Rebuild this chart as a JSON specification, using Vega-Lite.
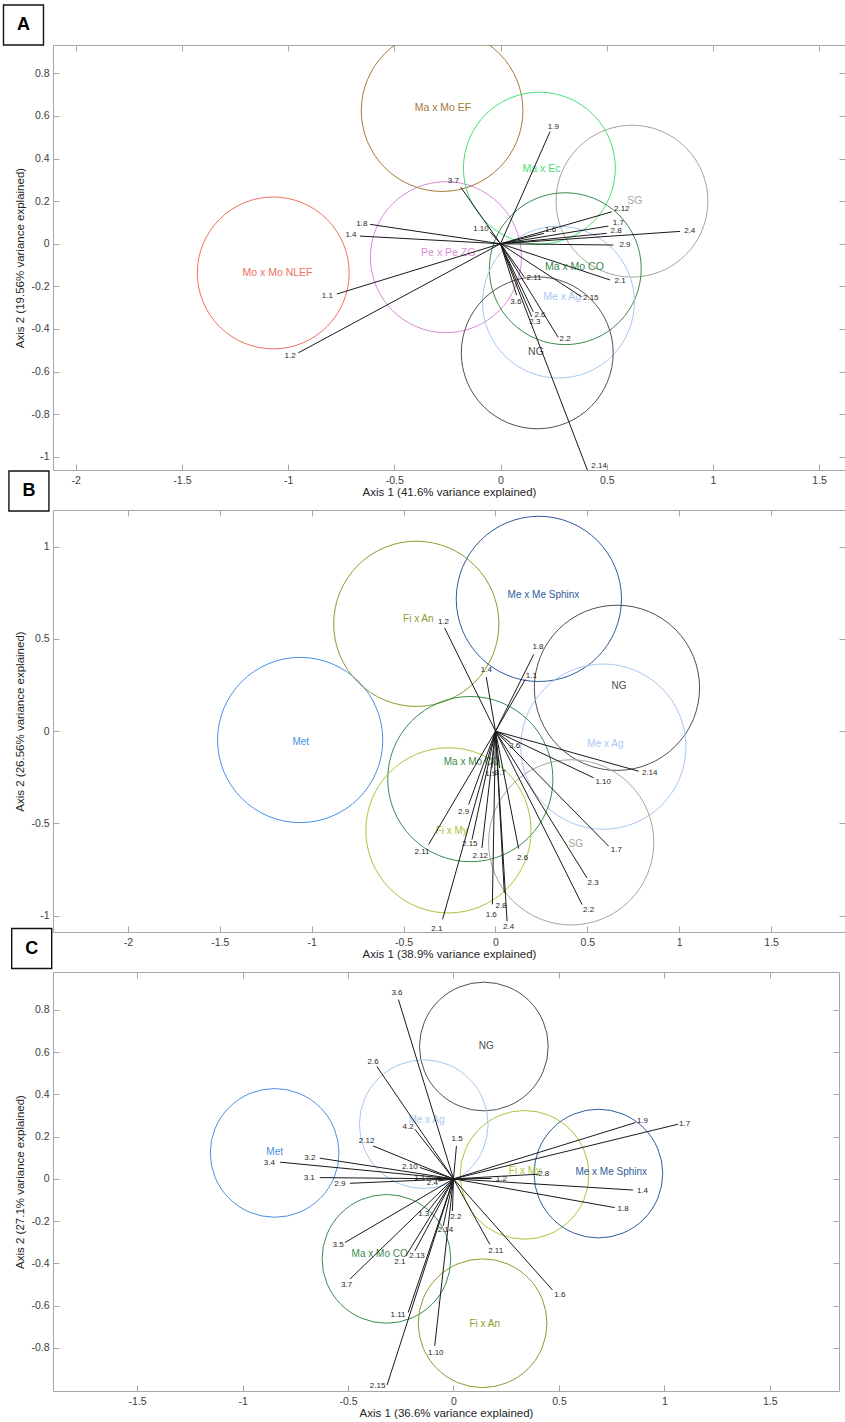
{
  "$schema": "https://vega.github.io/schema/vega-lite/v6.json",
  "padding": {"left": 0, "top": 1, "right": 0, "bottom": 0},
  "background": "white",
  "config": {
    "font": "Liberation Sans",
    "view": {"stroke": "#a6a6a6", "strokeWidth": 1},
    "axis": {"domain": false, "grid": false, "tickColor": "#a6a6a6", "tickSize": -6, "tickWidth": 1, "labelFontSize": 10.5, "labelColor": "#404040", "labelFont": "Liberation Sans", "titleFont": "Liberation Sans", "titleFontSize": 11.5, "titleFontWeight": "normal", "titleColor": "#262626", "labelFlush": false, "labelOverlap": false, "labelBound": false},
    "axisBottom": {"labelPadding": 11, "titlePadding": 1},
    "axisLeft": {"labelPadding": 10, "titlePadding": 5}
  },
  "datasets": {
    "circA": [
      {"group": "Mo x Mo NLEF", "x": -1.07, "y": -0.137, "r": 0.357, "lx": -1.05, "ly": -0.136},
      {"group": "Pe x Pe ZG", "x": -0.257, "y": -0.063, "r": 0.355, "lx": -0.246, "ly": -0.045},
      {"group": "Ma x Mo EF", "x": -0.275, "y": 0.625, "r": 0.38, "lx": -0.271, "ly": 0.638},
      {"group": "Ma x Ec", "x": 0.183, "y": 0.355, "r": 0.357, "lx": 0.193, "ly": 0.349},
      {"group": "SG", "x": 0.619, "y": 0.2, "r": 0.357, "lx": 0.632, "ly": 0.202},
      {"group": "Ma x Mo CO", "x": 0.305, "y": -0.117, "r": 0.357, "lx": 0.348, "ly": -0.108},
      {"group": "Me x Ag", "x": 0.273, "y": -0.274, "r": 0.357, "lx": 0.29, "ly": -0.249},
      {"group": "NG", "x": 0.173, "y": -0.512, "r": 0.357, "lx": 0.167, "ly": -0.51}
    ],
    "vecA": [
      {"v": "1.9", "x": 0.233, "y": 0.526, "lx": 0.249, "ly": 0.548},
      {"v": "3.7", "x": -0.187, "y": 0.265, "lx": -0.222, "ly": 0.296},
      {"v": "1.10", "x": -0.049, "y": 0.056, "lx": -0.092, "ly": 0.068},
      {"v": "1.6", "x": 0.205, "y": 0.049, "lx": 0.236, "ly": 0.064},
      {"v": "2.12", "x": 0.524, "y": 0.15, "lx": 0.571, "ly": 0.163},
      {"v": "1.7", "x": 0.508, "y": 0.083, "lx": 0.555, "ly": 0.099},
      {"v": "2.8", "x": 0.5, "y": 0.049, "lx": 0.544, "ly": 0.06},
      {"v": "2.4", "x": 0.845, "y": 0.058, "lx": 0.891, "ly": 0.06},
      {"v": "2.9", "x": 0.531, "y": -0.006, "lx": 0.586, "ly": -0.006},
      {"v": "2.1", "x": 0.516, "y": -0.17, "lx": 0.563, "ly": -0.175},
      {"v": "2.15", "x": 0.382, "y": -0.249, "lx": 0.425, "ly": -0.254},
      {"v": "2.11", "x": 0.111, "y": -0.155, "lx": 0.158, "ly": -0.16},
      {"v": "3.6", "x": 0.076, "y": -0.241, "lx": 0.072, "ly": -0.272},
      {"v": "2.6", "x": 0.154, "y": -0.319, "lx": 0.186, "ly": -0.335},
      {"v": "2.3", "x": 0.147, "y": -0.343, "lx": 0.162, "ly": -0.366},
      {"v": "2.2", "x": 0.272, "y": -0.44, "lx": 0.304, "ly": -0.447},
      {"v": "2.14", "x": 0.409, "y": -1.062, "lx": 0.464, "ly": -1.042},
      {"v": "1.8", "x": -0.614, "y": 0.091, "lx": -0.653, "ly": 0.091},
      {"v": "1.4", "x": -0.661, "y": 0.036, "lx": -0.704, "ly": 0.041},
      {"v": "1.1", "x": -0.771, "y": -0.236, "lx": -0.815, "ly": -0.244},
      {"v": "1.2", "x": -0.952, "y": -0.512, "lx": -0.991, "ly": -0.526}
    ],
    "labA": [{"p": "A", "x": -2.246, "y": 1.027}],
    "circB": [
      {"group": "Met", "x": -1.063, "y": -0.048, "r": 0.449, "lx": -1.06, "ly": -0.058},
      {"group": "Fi x An", "x": -0.431, "y": 0.582, "r": 0.449, "lx": -0.42, "ly": 0.606},
      {"group": "Me x Me Sphinx", "x": 0.236, "y": 0.717, "r": 0.449, "lx": 0.261, "ly": 0.736},
      {"group": "NG", "x": 0.661, "y": 0.235, "r": 0.449, "lx": 0.672, "ly": 0.246},
      {"group": "Me x Ag", "x": 0.587, "y": -0.084, "r": 0.449, "lx": 0.598, "ly": -0.072},
      {"group": "Ma x Mo CO", "x": -0.137, "y": -0.26, "r": 0.449, "lx": -0.129, "ly": -0.168},
      {"group": "Fi x My", "x": -0.256, "y": -0.538, "r": 0.449, "lx": -0.238, "ly": -0.543},
      {"group": "SG", "x": 0.412, "y": -0.603, "r": 0.449, "lx": 0.437, "ly": -0.611}
    ],
    "vecB": [
      {"v": "1.2", "x": -0.277, "y": 0.56, "lx": -0.283, "ly": 0.593},
      {"v": "1.8", "x": 0.208, "y": 0.416, "lx": 0.231, "ly": 0.456},
      {"v": "1.4", "x": -0.05, "y": 0.293, "lx": -0.05, "ly": 0.329},
      {"v": "1.1", "x": 0.162, "y": 0.28, "lx": 0.195, "ly": 0.298},
      {"v": "3.6", "x": 0.081, "y": -0.063, "lx": 0.104, "ly": -0.081},
      {"v": "1.10", "x": 0.534, "y": -0.253, "lx": 0.586, "ly": -0.275},
      {"v": "2.14", "x": 0.779, "y": -0.217, "lx": 0.839, "ly": -0.226},
      {"v": "1.7", "x": 0.616, "y": -0.624, "lx": 0.658, "ly": -0.647},
      {"v": "2.3", "x": 0.498, "y": -0.796, "lx": 0.531, "ly": -0.826},
      {"v": "2.2", "x": 0.471, "y": -0.94, "lx": 0.507, "ly": -0.971},
      {"v": "2.6", "x": 0.126, "y": -0.637, "lx": 0.148, "ly": -0.687},
      {"v": "2.4", "x": 0.063, "y": -1.031, "lx": 0.071, "ly": -1.062},
      {"v": "2.8", "x": 0.048, "y": -0.877, "lx": 0.03, "ly": -0.95},
      {"v": "1.6", "x": -0.017, "y": -0.939, "lx": -0.023, "ly": -0.995},
      {"v": "2.1", "x": -0.288, "y": -1.02, "lx": -0.319, "ly": -1.073},
      {"v": "2.11", "x": -0.364, "y": -0.615, "lx": -0.4, "ly": -0.657},
      {"v": "2.12", "x": -0.074, "y": -0.633, "lx": -0.083, "ly": -0.675},
      {"v": "2.15", "x": -0.128, "y": -0.588, "lx": -0.14, "ly": -0.61},
      {"v": "2.9", "x": -0.146, "y": -0.398, "lx": -0.174, "ly": -0.44},
      {"v": "1.9", "x": -0.02, "y": -0.2, "lx": -0.025, "ly": -0.235},
      {"v": "3.7", "x": 0.022, "y": -0.2, "lx": 0.026, "ly": -0.226}
    ],
    "labB": [{"p": "B", "x": -2.539, "y": 1.302}],
    "circC": [
      {"group": "NG", "x": 0.144, "y": 0.627, "r": 0.305, "lx": 0.155, "ly": 0.631},
      {"group": "Me x Ag", "x": -0.141, "y": 0.259, "r": 0.305, "lx": -0.128, "ly": 0.277},
      {"group": "Met", "x": -0.848, "y": 0.123, "r": 0.305, "lx": -0.848, "ly": 0.126},
      {"group": "Fi x My", "x": 0.337, "y": 0.019, "r": 0.305, "lx": 0.339, "ly": 0.036},
      {"group": "Me x Me Sphinx", "x": 0.687, "y": 0.025, "r": 0.305, "lx": 0.748, "ly": 0.033},
      {"group": "Ma x Mo CO", "x": -0.318, "y": -0.379, "r": 0.305, "lx": -0.35, "ly": -0.358},
      {"group": "Fi x An", "x": 0.138, "y": -0.684, "r": 0.305, "lx": 0.148, "ly": -0.688}
    ],
    "vecC": [
      {"v": "3.6", "x": -0.261, "y": 0.849, "lx": -0.268, "ly": 0.881},
      {"v": "2.6", "x": -0.363, "y": 0.532, "lx": -0.381, "ly": 0.553},
      {"v": "4.2", "x": -0.183, "y": 0.235, "lx": -0.215, "ly": 0.246},
      {"v": "2.12", "x": -0.381, "y": 0.156, "lx": -0.412, "ly": 0.179},
      {"v": "1.5", "x": 0.014, "y": 0.156, "lx": 0.017, "ly": 0.188},
      {"v": "3.2", "x": -0.634, "y": 0.098, "lx": -0.681, "ly": 0.101},
      {"v": "3.4", "x": -0.822, "y": 0.079, "lx": -0.873, "ly": 0.073},
      {"v": "2.10", "x": -0.16, "y": 0.054, "lx": -0.207, "ly": 0.058},
      {"v": "3.1", "x": -0.634, "y": 0.006, "lx": -0.684, "ly": 0.003},
      {"v": "1.1", "x": -0.13, "y": 0.003, "lx": -0.16, "ly": 0.006},
      {"v": "2.9", "x": -0.491, "y": -0.021, "lx": -0.539, "ly": -0.022},
      {"v": "2.4", "x": -0.073, "y": -0.01, "lx": -0.1, "ly": -0.021},
      {"v": "1.9", "x": 0.864, "y": 0.267, "lx": 0.896, "ly": 0.274},
      {"v": "1.7", "x": 1.065, "y": 0.259, "lx": 1.096, "ly": 0.262},
      {"v": "2.8", "x": 0.401, "y": 0.022, "lx": 0.428, "ly": 0.025},
      {"v": "1.2", "x": 0.18, "y": 0.002, "lx": 0.227, "ly": 0.001},
      {"v": "1.4", "x": 0.851, "y": -0.053, "lx": 0.896, "ly": -0.057},
      {"v": "1.8", "x": 0.764, "y": -0.136, "lx": 0.804, "ly": -0.144},
      {"v": "1.3", "x": -0.12, "y": -0.152, "lx": -0.141, "ly": -0.168},
      {"v": "2.2", "x": -0.005, "y": -0.152, "lx": 0.011, "ly": -0.179},
      {"v": "2.14", "x": -0.049, "y": -0.223, "lx": -0.038, "ly": -0.243},
      {"v": "3.5", "x": -0.515, "y": -0.302, "lx": -0.547, "ly": -0.313},
      {"v": "2.13", "x": -0.183, "y": -0.341, "lx": -0.173, "ly": -0.365},
      {"v": "2.1", "x": -0.226, "y": -0.365, "lx": -0.254, "ly": -0.393},
      {"v": "3.7", "x": -0.491, "y": -0.475, "lx": -0.507, "ly": -0.502},
      {"v": "2.11", "x": 0.172, "y": -0.31, "lx": 0.2, "ly": -0.344},
      {"v": "1.6", "x": 0.469, "y": -0.526, "lx": 0.504, "ly": -0.551},
      {"v": "1.11", "x": -0.215, "y": -0.633, "lx": -0.263, "ly": -0.644},
      {"v": "1.10", "x": -0.089, "y": -0.791, "lx": -0.084, "ly": -0.826},
      {"v": "2.15", "x": -0.315, "y": -0.977, "lx": -0.36, "ly": -0.98}
    ],
    "labC": [{"p": "C", "x": -2.0, "y": 1.091}]
  },
  "vconcat": [
    {
      "width": 792, "height": 425,
      "layer": [
        {"data": {"name": "circA"}, "mark": {"type": "point", "shape": "circle", "filled": false, "strokeWidth": 1, "opacity": 1, "clip": true},
         "encoding": {
           "x": {"field": "x", "type": "quantitative", "scale": {"domain": [-2.107, 1.622], "nice": false, "zero": false}, "axis": {"orient": "bottom", "values": [-2, -1.5, -1, -0.5, 0, 0.5, 1, 1.5], "labelExpr": "replace(format(datum.value, '~g'), '−', '-')", "title": "Axis 1 (41.6% variance explained)"}},
           "y": {"field": "y", "type": "quantitative", "scale": {"domain": [-1.062, 0.933], "nice": false, "zero": false}, "axis": {"orient": "left", "values": [-1, -0.8, -0.6, -0.4, -0.2, 0, 0.2, 0.4, 0.6, 0.8], "labelExpr": "replace(format(datum.value, '~g'), '−', '-')", "title": "Axis 2 (19.56% variance explained)"}},
           "size": {"field": "r", "type": "quantitative", "scale": {"type": "pow", "exponent": 2, "domain": [0, 1], "range": [0, 180970]}, "legend": null},
           "color": {"field": "group", "type": "nominal", "legend": null, "scale": {"domain": ["Mo x Mo NLEF", "Pe x Pe ZG", "Ma x Mo EF", "Ma x Ec", "SG", "Ma x Mo CO", "Me x Ag", "NG", "Met", "Fi x An", "Me x Me Sphinx", "Fi x My"], "range": ["#F07060", "#D98CD9", "#A5793A", "#46E07A", "#A8A49A", "#3B8A4C", "#A6C8F0", "#505050", "#4A90E2", "#8C9C30", "#2E5C9A", "#A6C63C"]}}
         }},
        {"data": {"name": "circA"}, "mark": {"type": "text", "fontSize": 10.5, "clip": true},
         "encoding": {
           "x": {"field": "lx", "type": "quantitative", "scale": {"domain": [-2.107, 1.622], "nice": false, "zero": false}, "axis": null},
           "y": {"field": "ly", "type": "quantitative", "scale": {"domain": [-1.062, 0.933], "nice": false, "zero": false}, "axis": null},
           "text": {"field": "group"},
           "color": {"field": "group", "type": "nominal", "legend": null, "scale": {"domain": ["Mo x Mo NLEF", "Pe x Pe ZG", "Ma x Mo EF", "Ma x Ec", "SG", "Ma x Mo CO", "Me x Ag", "NG", "Met", "Fi x An", "Me x Me Sphinx", "Fi x My"], "range": ["#F07060", "#D98CD9", "#A5793A", "#46E07A", "#A8A49A", "#3B8A4C", "#A6C8F0", "#505050", "#4A90E2", "#8C9C30", "#2E5C9A", "#A6C63C"]}}
         }},
        {"data": {"name": "vecA"}, "mark": {"type": "rule", "color": "#1a1a1a", "strokeWidth": 1, "clip": true},
         "encoding": {
           "x": {"field": "x", "type": "quantitative", "scale": {"domain": [-2.107, 1.622], "nice": false, "zero": false}, "axis": {"orient": "top", "values": [-2, -1.5, -1, -0.5, 0, 0.5, 1, 1.5], "labels": false, "title": null}},
           "y": {"field": "y", "type": "quantitative", "scale": {"domain": [-1.062, 0.933], "nice": false, "zero": false}, "axis": {"orient": "right", "values": [-1, -0.8, -0.6, -0.4, -0.2, 0, 0.2, 0.4, 0.6, 0.8], "labels": false, "title": null}},
           "x2": {"datum": 0},
           "y2": {"datum": 0}
         }},
        {"data": {"name": "vecA"}, "mark": {"type": "text", "fontSize": 8, "color": "#262626", "clip": true},
         "encoding": {
           "x": {"field": "lx", "type": "quantitative", "scale": {"domain": [-2.107, 1.622], "nice": false, "zero": false}, "axis": null},
           "y": {"field": "ly", "type": "quantitative", "scale": {"domain": [-1.062, 0.933], "nice": false, "zero": false}, "axis": null},
           "text": {"field": "v"}
         }},
        {"data": {"name": "labA"}, "mark": {"type": "point", "shape": "square", "filled": false, "size": 1600, "stroke": "#111111", "strokeWidth": 1.4, "opacity": 1},
         "encoding": {
           "x": {"field": "x", "type": "quantitative", "scale": {"domain": [-2.107, 1.622], "nice": false, "zero": false}, "axis": null},
           "y": {"field": "y", "type": "quantitative", "scale": {"domain": [-1.062, 0.933], "nice": false, "zero": false}, "axis": null}
         }},
        {"data": {"name": "labA"}, "mark": {"type": "text", "fontSize": 18, "fontWeight": "bold", "color": "#000000", "font": "Liberation Sans"},
         "encoding": {
           "x": {"field": "x", "type": "quantitative", "scale": {"domain": [-2.107, 1.622], "nice": false, "zero": false}, "axis": null},
           "y": {"field": "y", "type": "quantitative", "scale": {"domain": [-1.062, 0.933], "nice": false, "zero": false}, "axis": null},
           "text": {"field": "p"}
         }}
      ],
      "resolve": {"axis": {"x": "independent", "y": "independent"}}
    },
    {
      "width": 792, "height": 422,
      "layer": [
        {"data": {"name": "circB"}, "mark": {"type": "point", "shape": "circle", "filled": false, "strokeWidth": 1, "opacity": 1, "clip": true},
         "encoding": {
           "x": {"field": "x", "type": "quantitative", "scale": {"domain": [-2.408, 1.902], "nice": false, "zero": false}, "axis": {"orient": "bottom", "values": [-2, -1.5, -1, -0.5, 0, 0.5, 1, 1.5], "labelExpr": "replace(format(datum.value, '~g'), '−', '-')", "title": "Axis 1 (38.9% variance explained)"}},
           "y": {"field": "y", "type": "quantitative", "scale": {"domain": [-1.089, 1.199], "nice": false, "zero": false}, "axis": {"orient": "left", "values": [-1, -0.5, 0, 0.5, 1], "labelExpr": "replace(format(datum.value, '~g'), '−', '-')", "title": "Axis 2 (26.56% variance explained)"}},
           "size": {"field": "r", "type": "quantitative", "scale": {"type": "pow", "exponent": 2, "domain": [0, 1], "range": [0, 135424]}, "legend": null},
           "color": {"field": "group", "type": "nominal", "legend": null, "scale": {"domain": ["Mo x Mo NLEF", "Pe x Pe ZG", "Ma x Mo EF", "Ma x Ec", "SG", "Ma x Mo CO", "Me x Ag", "NG", "Met", "Fi x An", "Me x Me Sphinx", "Fi x My"], "range": ["#F07060", "#D98CD9", "#A5793A", "#46E07A", "#A8A49A", "#3B8A4C", "#A6C8F0", "#505050", "#4A90E2", "#8C9C30", "#2E5C9A", "#A6C63C"]}}
         }},
        {"data": {"name": "circB"}, "mark": {"type": "text", "fontSize": 10, "clip": true},
         "encoding": {
           "x": {"field": "lx", "type": "quantitative", "scale": {"domain": [-2.408, 1.902], "nice": false, "zero": false}, "axis": null},
           "y": {"field": "ly", "type": "quantitative", "scale": {"domain": [-1.089, 1.199], "nice": false, "zero": false}, "axis": null},
           "text": {"field": "group"},
           "color": {"field": "group", "type": "nominal", "legend": null, "scale": {"domain": ["Mo x Mo NLEF", "Pe x Pe ZG", "Ma x Mo EF", "Ma x Ec", "SG", "Ma x Mo CO", "Me x Ag", "NG", "Met", "Fi x An", "Me x Me Sphinx", "Fi x My"], "range": ["#F07060", "#D98CD9", "#A5793A", "#46E07A", "#A8A49A", "#3B8A4C", "#A6C8F0", "#505050", "#4A90E2", "#8C9C30", "#2E5C9A", "#A6C63C"]}}
         }},
        {"data": {"name": "vecB"}, "mark": {"type": "rule", "color": "#1a1a1a", "strokeWidth": 1, "clip": true},
         "encoding": {
           "x": {"field": "x", "type": "quantitative", "scale": {"domain": [-2.408, 1.902], "nice": false, "zero": false}, "axis": {"orient": "top", "values": [-2, -1.5, -1, -0.5, 0, 0.5, 1, 1.5], "labels": false, "title": null}},
           "y": {"field": "y", "type": "quantitative", "scale": {"domain": [-1.089, 1.199], "nice": false, "zero": false}, "axis": {"orient": "right", "values": [-1, -0.5, 0, 0.5, 1], "labels": false, "title": null}},
           "x2": {"datum": 0},
           "y2": {"datum": 0}
         }},
        {"data": {"name": "vecB"}, "mark": {"type": "text", "fontSize": 8, "color": "#262626", "clip": true},
         "encoding": {
           "x": {"field": "lx", "type": "quantitative", "scale": {"domain": [-2.408, 1.902], "nice": false, "zero": false}, "axis": null},
           "y": {"field": "ly", "type": "quantitative", "scale": {"domain": [-1.089, 1.199], "nice": false, "zero": false}, "axis": null},
           "text": {"field": "v"}
         }},
        {"data": {"name": "labB"}, "mark": {"type": "point", "shape": "square", "filled": false, "size": 1600, "stroke": "#111111", "strokeWidth": 1.4, "opacity": 1},
         "encoding": {
           "x": {"field": "x", "type": "quantitative", "scale": {"domain": [-2.408, 1.902], "nice": false, "zero": false}, "axis": null},
           "y": {"field": "y", "type": "quantitative", "scale": {"domain": [-1.089, 1.199], "nice": false, "zero": false}, "axis": null}
         }},
        {"data": {"name": "labB"}, "mark": {"type": "text", "fontSize": 18, "fontWeight": "bold", "color": "#000000", "font": "Liberation Sans"},
         "encoding": {
           "x": {"field": "x", "type": "quantitative", "scale": {"domain": [-2.408, 1.902], "nice": false, "zero": false}, "axis": null},
           "y": {"field": "y", "type": "quantitative", "scale": {"domain": [-1.089, 1.199], "nice": false, "zero": false}, "axis": null},
           "text": {"field": "p"}
         }}
      ],
      "resolve": {"axis": {"x": "independent", "y": "independent"}}
    },
    {
      "width": 786, "height": 419,
      "layer": [
        {"data": {"name": "circC"}, "mark": {"type": "point", "shape": "circle", "filled": false, "strokeWidth": 1, "opacity": 1, "clip": true},
         "encoding": {
           "x": {"field": "x", "type": "quantitative", "scale": {"domain": [-1.899, 1.828], "nice": false, "zero": false}, "axis": {"orient": "bottom", "values": [-1.5, -1, -0.5, 0, 0.5, 1, 1.5], "labelExpr": "replace(format(datum.value, '~g'), '−', '-')", "title": "Axis 1 (36.6% variance explained)"}},
           "y": {"field": "y", "type": "quantitative", "scale": {"domain": [-1.005, 0.98], "nice": false, "zero": false}, "axis": {"orient": "left", "values": [-0.8, -0.6, -0.4, -0.2, 0, 0.2, 0.4, 0.6, 0.8], "labelExpr": "replace(format(datum.value, '~g'), '−', '-')", "title": "Axis 2 (27.1% variance explained)"}},
           "size": {"field": "r", "type": "quantitative", "scale": {"type": "pow", "exponent": 2, "domain": [0, 1], "range": [0, 178084]}, "legend": null},
           "color": {"field": "group", "type": "nominal", "legend": null, "scale": {"domain": ["Mo x Mo NLEF", "Pe x Pe ZG", "Ma x Mo EF", "Ma x Ec", "SG", "Ma x Mo CO", "Me x Ag", "NG", "Met", "Fi x An", "Me x Me Sphinx", "Fi x My"], "range": ["#F07060", "#D98CD9", "#A5793A", "#46E07A", "#A8A49A", "#3B8A4C", "#A6C8F0", "#505050", "#4A90E2", "#8C9C30", "#2E5C9A", "#A6C63C"]}}
         }},
        {"data": {"name": "circC"}, "mark": {"type": "text", "fontSize": 10, "clip": true},
         "encoding": {
           "x": {"field": "lx", "type": "quantitative", "scale": {"domain": [-1.899, 1.828], "nice": false, "zero": false}, "axis": null},
           "y": {"field": "ly", "type": "quantitative", "scale": {"domain": [-1.005, 0.98], "nice": false, "zero": false}, "axis": null},
           "text": {"field": "group"},
           "color": {"field": "group", "type": "nominal", "legend": null, "scale": {"domain": ["Mo x Mo NLEF", "Pe x Pe ZG", "Ma x Mo EF", "Ma x Ec", "SG", "Ma x Mo CO", "Me x Ag", "NG", "Met", "Fi x An", "Me x Me Sphinx", "Fi x My"], "range": ["#F07060", "#D98CD9", "#A5793A", "#46E07A", "#A8A49A", "#3B8A4C", "#A6C8F0", "#505050", "#4A90E2", "#8C9C30", "#2E5C9A", "#A6C63C"]}}
         }},
        {"data": {"name": "vecC"}, "mark": {"type": "rule", "color": "#1a1a1a", "strokeWidth": 1, "clip": true},
         "encoding": {
           "x": {"field": "x", "type": "quantitative", "scale": {"domain": [-1.899, 1.828], "nice": false, "zero": false}, "axis": {"orient": "top", "values": [-1.5, -1, -0.5, 0, 0.5, 1, 1.5], "labels": false, "title": null}},
           "y": {"field": "y", "type": "quantitative", "scale": {"domain": [-1.005, 0.98], "nice": false, "zero": false}, "axis": {"orient": "right", "values": [-0.8, -0.6, -0.4, -0.2, 0, 0.2, 0.4, 0.6, 0.8], "labels": false, "title": null}},
           "x2": {"datum": 0},
           "y2": {"datum": 0}
         }},
        {"data": {"name": "vecC"}, "mark": {"type": "text", "fontSize": 8, "color": "#262626", "clip": true},
         "encoding": {
           "x": {"field": "lx", "type": "quantitative", "scale": {"domain": [-1.899, 1.828], "nice": false, "zero": false}, "axis": null},
           "y": {"field": "ly", "type": "quantitative", "scale": {"domain": [-1.005, 0.98], "nice": false, "zero": false}, "axis": null},
           "text": {"field": "v"}
         }},
        {"data": {"name": "labC"}, "mark": {"type": "point", "shape": "square", "filled": false, "size": 1600, "stroke": "#111111", "strokeWidth": 1.4, "opacity": 1},
         "encoding": {
           "x": {"field": "x", "type": "quantitative", "scale": {"domain": [-1.899, 1.828], "nice": false, "zero": false}, "axis": null},
           "y": {"field": "y", "type": "quantitative", "scale": {"domain": [-1.005, 0.98], "nice": false, "zero": false}, "axis": null}
         }},
        {"data": {"name": "labC"}, "mark": {"type": "text", "fontSize": 18, "fontWeight": "bold", "color": "#000000", "font": "Liberation Sans"},
         "encoding": {
           "x": {"field": "x", "type": "quantitative", "scale": {"domain": [-1.899, 1.828], "nice": false, "zero": false}, "axis": null},
           "y": {"field": "y", "type": "quantitative", "scale": {"domain": [-1.005, 0.98], "nice": false, "zero": false}, "axis": null},
           "text": {"field": "p"}
         }}
      ],
      "resolve": {"axis": {"x": "independent", "y": "independent"}}
    }
  ],
  "spacing": 40,
  "bounds": "flush",
  "resolve": {"scale": {"size": "independent"}}
}
